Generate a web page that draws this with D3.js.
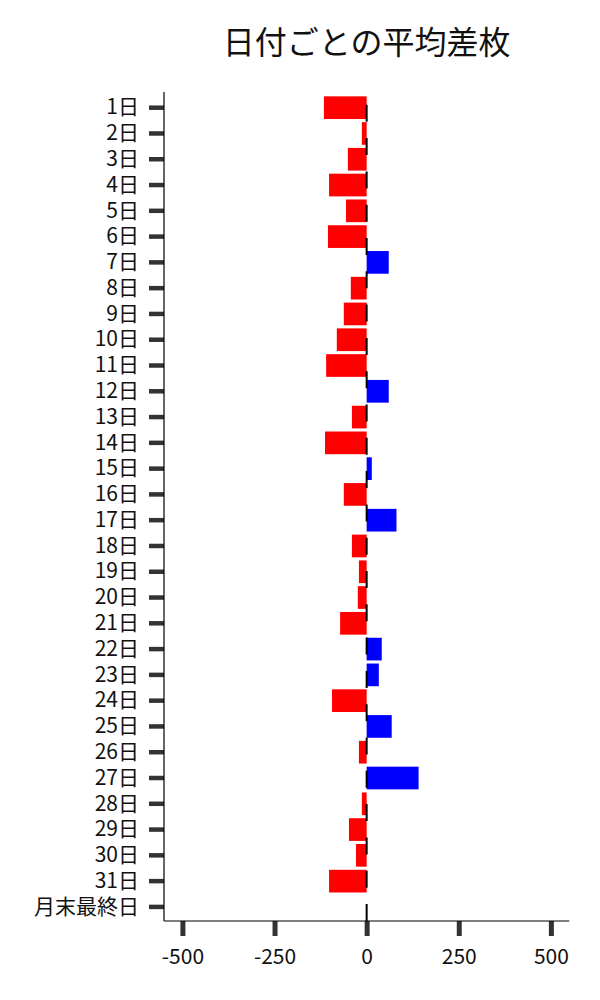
<!DOCTYPE html>
<html>
<head>
<meta charset="utf-8">
<script src="https://cdn.jsdelivr.net/npm/d3@7"></script>
<style>
  html, body { margin: 0; padding: 0; background: #fff; }
  svg { display: block; font-family: "Noto Sans CJK JP", "Noto Sans", sans-serif; }
</style>
</head>
<body>
<svg id="chart" width="600" height="1000"></svg>
<script>
const title = "日付ごとの平均差枚";
const categories = ["1日","2日","3日","4日","5日","6日","7日","8日","9日","10日",
  "11日","12日","13日","14日","15日","16日","17日","18日","19日","20日",
  "21日","22日","23日","24日","25日","26日","27日","28日","29日","30日","31日","月末最終日"];
const values = [-116,-13,-51,-102,-56,-105,60,-43,-62,-81,
  -110,60,-40,-113,14,-62,81,-40,-21,-24,
  -72,41,33,-94,68,-21,141,-13,-48,-29,-102,null];
const xTicks = [-500,-250,0,250,500];
const xDomain = [-550, 550];

(function () {
const svg = d3.select("#chart");
const pLeft = 164, pRight = 569.3, pTop = 92, pBottom = 921;

const x = d3.scaleLinear().domain(xDomain).range([pLeft, pRight]);
const y = d3.scaleBand().domain(categories).range([94.8, 919.8])
  .paddingInner(0.12).paddingOuter(0.06);

const data = categories.map((c, i) => ({c, v: values[i]})).filter(d => d.v !== null);

svg.append("g").selectAll("rect").data(data).join("rect")
  .attr("x", d => x(Math.min(0, d.v)))
  .attr("width", d => Math.abs(x(d.v) - x(0)))
  .attr("y", d => y(d.c))
  .attr("height", y.bandwidth())
  .attr("fill", d => d.v < 0 ? "#ff0000" : "#0000ff");

// zero reference dashed line
svg.append("line")
  .attr("x1", x(0)).attr("x2", x(0))
  .attr("y1", pBottom).attr("y2", pTop)
  .attr("stroke", "#000").attr("stroke-width", 2)
  .attr("stroke-dasharray", "17,16.3");

const font = '"Noto Sans CJK JP", sans-serif';

// Y axis
const yAxis = svg.append("g").attr("transform", `translate(${pLeft},0)`)
  .call(d3.axisLeft(y).tickSize(15).tickSizeOuter(0).tickPadding(10));
yAxis.select(".domain").remove();
yAxis.selectAll(".tick line").attr("stroke", "#333").attr("stroke-width", 4.5);
yAxis.selectAll(".tick text").attr("font-size", 21).attr("fill", "#111")
  .style("font-family", font);

// X axis
const xAxis = svg.append("g").attr("transform", `translate(0,${pBottom})`)
  .call(d3.axisBottom(x).tickValues(xTicks).tickFormat(d => String(d))
    .tickSize(15).tickSizeOuter(0).tickPadding(13));
xAxis.select(".domain").remove();
xAxis.selectAll(".tick line").attr("stroke", "#333").attr("stroke-width", 5);
xAxis.selectAll(".tick text").attr("font-size", 21).attr("fill", "#111")
  .style("font-family", font);

// spines
svg.append("line").attr("x1", pLeft).attr("x2", pLeft).attr("y1", pTop).attr("y2", pBottom)
  .attr("stroke", "#000").attr("stroke-width", 1.2);
svg.append("line").attr("x1", pLeft).attr("x2", pRight).attr("y1", pBottom).attr("y2", pBottom)
  .attr("stroke", "#000").attr("stroke-width", 1.2);

// title
svg.append("text").attr("x", (pLeft + pRight) / 2).attr("y", 54)
  .attr("text-anchor", "middle").attr("font-size", 32).attr("fill", "#111")
  .style("font-family", font)
  .text(title);
})();
</script>
</body>
</html>
